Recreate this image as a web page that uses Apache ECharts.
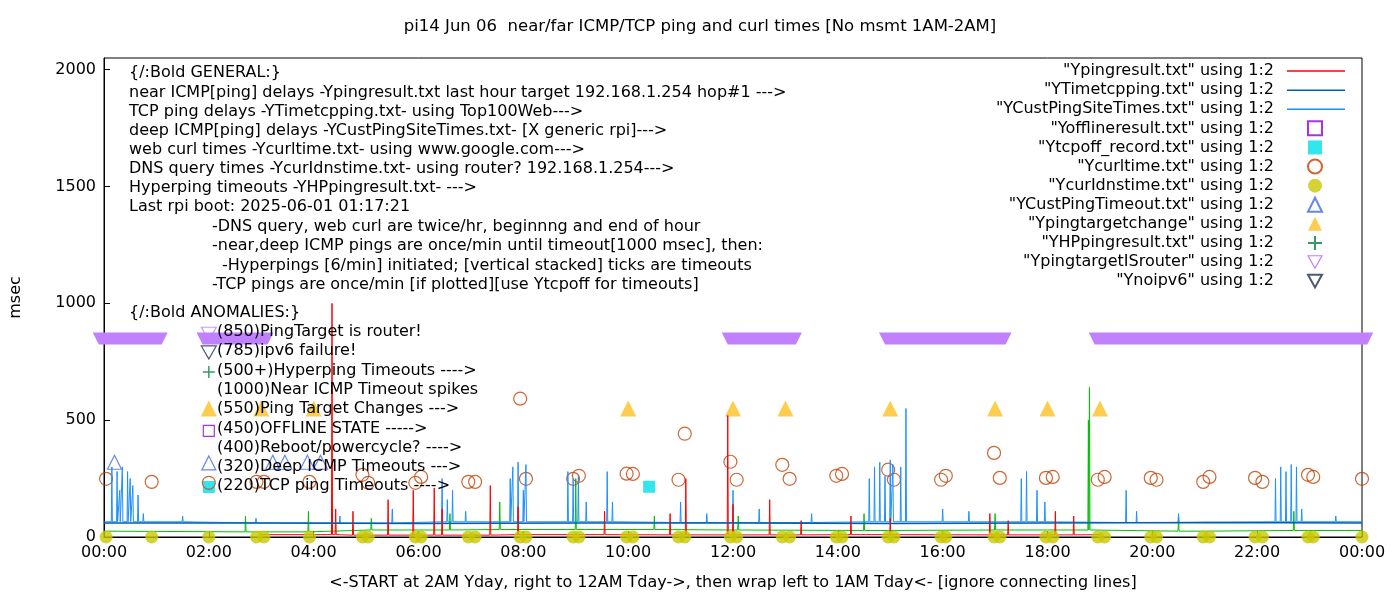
<!DOCTYPE html>
<html><head><meta charset="utf-8">
<script src="https://cdn.jsdelivr.net/npm/echarts@6/dist/echarts.min.js"></script>
<style>html,body{margin:0;padding:0;background:#fff}#c{width:1400px;height:600px}</style>
</head><body><div id="c"></div>
<script>
// hours 0..24, values msec
const xTicks = ['00:00','02:00','04:00','06:00','08:00','10:00','12:00','14:00','16:00','18:00','20:00','22:00','00:00'];

// near ICMP (red): baseline + spikes
const pingBase = [[3.0,10],[6,8],[9,10],[12,9],[15,10],[18,9],[19.0,10]];
const pingSpikes = [[4.35,1000],[4.42,120],[4.75,110],[5.42,160],[5.9,200],[6.3,210],[6.45,120],[7.37,220],[7.9,130],[9.55,110],[10.8,100],[11.1,250],[11.9,520],[12.0,140],[12.7,160],[13.3,70],[14.25,90],[15.0,80],[16.9,100],[17.25,70],[18.15,110],[18.5,90]];
// TCP ping (blue, flat)
const tcpBase = [[0,60],[3,60],[6,58],[9,60],[12,60],[15,58],[18,60],[21,62],[24,60]];
// deep ICMP (light blue)
const custBase = [[0,65],[4,60],[8,65],[12,62],[16,65],[20,62],[24,65]];
const custSpikes = [[0.15,300],[0.25,280],[0.3,200],[0.35,300],[0.45,280],[0.5,250],[0.55,220],[0.65,180],[0.75,100],[1.5,90],[2.9,80],[4.5,90],[5.5,120],[6.45,250],[6.55,160],[6.65,200],[6.9,110],[7.75,250],[7.8,300],[7.9,320],[8.0,200],[8.05,310],[8.85,280],[8.95,250],[9.05,260],[9.2,150],[9.6,280],[9.7,150],[11.0,150],[11.5,100],[12.0,200],[12.5,120],[13.5,100],[14.6,250],[14.7,300],[14.8,320],[14.9,260],[15.0,330],[15.05,310],[15.2,300],[15.3,550],[16.0,120],[16.5,110],[17.5,250],[17.6,280],[17.8,200],[17.95,150],[19.5,200],[19.7,110],[20.5,100],[22.35,250],[22.45,300],[22.55,280],[22.65,310],[22.75,300],[22.85,120],[23.5,90]];
// hyperping (green)
const hpBase = [[0,25],[3,22],[6,30],[9,32],[12,30],[15,28],[18,30],[21,25],[24,28]];
const hpSpikes = [[2.7,90],[3.9,110],[5.1,80],[6.6,100],[7.55,150],[9.0,250],[10.5,90],[12.1,90],[14.5,100],[17.0,100],[18.78,500],[18.8,640],[20.5,90],[22.7,110]];
// curl times (circles)
const curl = [[0.04,249],[0.91,236],[2.0,232],[2.91,236],[3.05,236],[3.92,236],[4.93,266],[5.04,232],[5.94,232],[6.05,257],[6.95,236],[7.08,236],[7.94,592],[8.05,249],[8.95,249],[9.06,262],[9.97,271],[10.09,270],[10.96,245],[11.08,442],[11.95,322],[12.07,245],[12.94,309],[13.08,249],[13.97,262],[14.08,270],[14.96,288],[15.07,245],[15.97,245],[16.06,262],[16.98,360],[17.09,253],[17.97,253],[18.1,257],[18.96,245],[19.09,257],[19.97,253],[20.08,245],[20.97,236],[21.09,257],[21.96,253],[22.1,236],[22.97,266],[23.07,257],[24,249]];
const dns = [[0.04,0],[0.91,0],[2.0,0],[2.91,0],[3.05,0],[3.92,0],[4.93,0],[5.04,0],[5.94,0],[6.05,0],[6.95,0],[7.08,0],[7.94,0],[8.05,0],[8.95,0],[9.06,0],[9.97,0],[10.09,0],[10.96,0],[11.08,0],[11.95,0],[12.07,0],[12.94,0],[13.08,0],[13.97,0],[14.08,0],[14.96,0],[15.07,0],[15.97,0],[16.06,0],[16.98,0],[17.09,0],[17.97,0],[18.1,0],[18.96,0],[19.09,0],[19.97,0],[20.08,0],[20.97,0],[21.09,0],[21.96,0],[22.1,0],[22.97,0],[23.07,0],[24,0]];
const offline = [[2.0,454]];
const tcpOff = [[2.0,214],[10.4,215]];
const custTimeout = [[0.2,320],[2.0,317],[3.22,320],[3.45,320],[3.88,320],[4.13,320]];
const targetChange = [[2,550],[3,550],[4,550],[10,550],[12,550],[13,550],[15,550],[17,550],[18,550],[19,550]];
const hpTimeout = [[2.0,706]];
const routerRanges = [[-0.1,1.1],[1.88,3.12],[11.9,13.2],[14.9,17.2],[18.9,24.1]];
const routerKey = [[2.0,870]];
const noipv6 = [[2.0,790]];

const textLines = [
  [129,75,'{/:Bold GENERAL:}'],
  [129,95,'near ICMP[ping] delays -Ypingresult.txt last hour target 192.168.1.254 hop#1 --->'],
  [129,114,'TCP ping delays -YTimetcpping.txt- using Top100Web--->'],
  [129,133,'deep ICMP[ping] delays -YCustPingSiteTimes.txt- [X generic rpi]--->'],
  [129,152,'web curl times -Ycurltime.txt- using www.google.com--->'],
  [129,171,'DNS query times -YcurIdnstime.txt- using router? 192.168.1.254--->'],
  [129,190,'Hyperping timeouts -YHPpingresult.txt- --->'],
  [129,209,'Last rpi boot: 2025-06-01 01:17:21'],
  [212,229,'-DNS query, web curl are twice/hr, beginnng and end of hour'],
  [212,248,'-near,deep ICMP pings are once/min until timeout[1000 msec], then:'],
  [222,268,'-Hyperpings [6/min] initiated; [vertical stacked] ticks are timeouts'],
  [212,287,'-TCP pings are once/min [if plotted][use Ytcpoff for timeouts]'],
  [129,315,'{/:Bold ANOMALIES:}'],
  [217,334,'(850)PingTarget is router!'],
  [217,353,'(785)ipv6 failure!'],
  [217,373,'(500+)Hyperping Timeouts ---->'],
  [217,392,'(1000)Near ICMP Timeout spikes'],
  [217,411,'(550)Ping Target Changes --->'],
  [217,431,'(450)OFFLINE STATE ----->'],
  [217,450,'(400)Reboot/powercycle? ---->'],
  [217,469,'(320)Deep ICMP Timeouts --->'],
  [217,488,'(220)TCP ping Timeouts ---->']
];

function spiky(base, spikes) {
  const pts = base.slice();
  spikes.forEach(([t, v]) => {
    const b = base.reduce((a, p) => Math.abs(p[0] - t) < Math.abs(a[0] - t) ? p : a)[1];
    pts.push([t - 0.01, b], [t, v], [t + 0.01, b]);
  });
  return pts.sort((a, b) => a[0] - b[0]);
}

const F = 'DejaVu Sans';
const FS = 16;
const LH = 19.1;
const names = ['"Ypingresult.txt" using 1:2','"YTimetcpping.txt" using 1:2','"YCustPingSiteTimes.txt" using 1:2','"Yofflineresult.txt" using 1:2','"Ytcpoff_record.txt" using 1:2','"Ycurltime.txt" using 1:2','"YcurIdnstime.txt" using 1:2','"YCustPingTimeout.txt" using 1:2','"Ypingtargetchange" using 1:2','"YHPpingresult.txt" using 1:2','"YpingtargetISrouter" using 1:2','"Ynoipv6" using 1:2'];
const plus = 'path://M5,0L5,10M0,5L10,5';
const downTri = 'path://M0,0L10,0L5,9Z';
const hollow = c => ({color: 'rgba(0,0,0,0)', borderColor: c, borderWidth: 1.2});
const legText = pad => ({fontFamily: F, fontSize: FS, color: '#000', lineHeight: LH, height: LH, padding: [0, pad, 0, 0]});

const chart = echarts.init(document.getElementById('c'));
chart.setOption({
  animation: false,
  textStyle: {fontFamily: F},
  title: {text: 'pi14 Jun 06  near/far ICMP/TCP ping and curl times [No msmt 1AM-2AM]', left: 'center', top: 13,
    textStyle: {fontFamily: F, fontSize: 16.5, fontWeight: 'normal', color: '#000'}},
  grid: {left: 101, right: 38, top: 58, bottom: 63, show: true, borderColor: '#000', borderWidth: 1},
  legend: [
    {orient: 'vertical', right: 55, top: 61.5, align: 'right', itemWidth: 58, itemHeight: 1.5, itemGap: 0, padding: 0,
      icon: 'rect', textStyle: legText(8), data: names.slice(0, 3)},
    {orient: 'vertical', right: 77, top: 61.5 + 3 * LH, align: 'right', itemWidth: 14, itemHeight: 14, itemGap: 0, padding: 0,
      textStyle: legText(29),
      data: [
        {name: names[3], icon: 'rect'}, {name: names[4], icon: 'rect'}, {name: names[5], icon: 'circle'},
        {name: names[6], icon: 'circle'}, {name: names[7], icon: 'triangle'}, {name: names[8], icon: 'triangle'},
        {name: names[9], icon: plus}, {name: names[10], icon: downTri, itemStyle: hollow('#c080ff')},
        {name: names[11], icon: downTri}]}
  ],
  xAxis: {type: 'value', min: 0, max: 24, interval: 2,
    name: '<-START at 2AM Yday, right to 12AM Tday->, then wrap left to 1AM Tday<- [ignore connecting lines]',
    nameLocation: 'middle', nameGap: 38, nameTextStyle: {fontFamily: F, fontSize: FS, color: '#000'},
    axisLine: {lineStyle: {color: '#000'}}, axisTick: {inside: true, length: 6, lineStyle: {color: '#000'}},
    axisLabel: {color: '#000', fontSize: FS, fontFamily: F, margin: 8, formatter: v => xTicks[v / 2]},
    splitLine: {show: false}},
  yAxis: {type: 'value', min: 0, max: 2050, interval: 500, name: 'msec', nameLocation: 'middle', nameGap: 80,
    nameTextStyle: {fontFamily: F, fontSize: FS, color: '#000'},
    axisLine: {show: true, lineStyle: {color: '#000'}}, axisTick: {inside: true, length: 6, lineStyle: {color: '#000'}},
    axisLabel: {color: '#000', fontSize: FS, fontFamily: F, showMaxLabel: false, formatter: v => String(v)}, splitLine: {show: false}},
  graphic: textLines.map(([x, y, t]) => ({type: 'text', left: x, top: y - 10, z: 100,
    style: {text: t, fontFamily: F, fontSize: FS, fill: '#000'}})),
  series: [
    {name: names[0], type: 'line', symbol: 'none', data: spiky(pingBase, pingSpikes), lineStyle: {width: 1, color: '#ff0000'}, itemStyle: {color: '#ff0000'}, z: 4},
    {name: names[1], type: 'line', symbol: 'none', data: tcpBase, lineStyle: {width: 1.5, color: '#0060ad'}, itemStyle: {color: '#0060ad'}, z: 5},
    {name: names[2], type: 'line', symbol: 'none', data: spiky(custBase, custSpikes), lineStyle: {width: 1, color: '#1e8fff'}, itemStyle: {color: '#1e8fff'}, z: 3},
    {name: names[3], type: 'scatter', symbol: 'rect', symbolSize: 11, data: offline, itemStyle: hollow('#9400d3')},
    {name: names[4], type: 'scatter', symbol: 'rect', symbolSize: 12, data: tcpOff, itemStyle: {color: '#00e0e8'}},
    {name: names[5], type: 'scatter', symbol: 'circle', symbolSize: 13, data: curl, itemStyle: hollow('#c04000')},
    {name: names[6], type: 'scatter', symbol: 'circle', symbolSize: 13, data: dns, clip: false, itemStyle: {color: '#c8c800'}, z: 6},
    {name: names[7], type: 'scatter', symbol: 'triangle', symbolSize: 14, data: custTimeout, itemStyle: hollow('#4169e1')},
    {name: names[8], type: 'scatter', symbol: 'triangle', symbolSize: 16, data: targetChange, itemStyle: {color: '#ffc020'}},
    {name: names[9], type: 'scatter', symbol: plus, symbolSize: 12, data: hpTimeout, itemStyle: {color: 'rgba(0,0,0,0)', borderColor: '#008040', borderWidth: 1.5}},
    {name: names[9], type: 'line', symbol: 'none', data: spiky(hpBase, hpSpikes), lineStyle: {width: 1, color: '#00c000'}, itemStyle: {color: '#008040'}, z: 2},
    {name: names[10], type: 'custom', data: routerRanges, clip: false, itemStyle: {color: '#c080ff'},
      renderItem: (params, api) => {
        const a = api.coord([api.value(0), 850]), b = api.coord([api.value(1), 850]);
        return {type: 'polygon', shape: {points: [[a[0] - 6, a[1] - 6], [b[0] + 6, b[1] - 6], [b[0], b[1] + 6], [a[0], a[1] + 6]]},
          style: {fill: '#c080ff'}};
      }},
    {name: names[10], type: 'scatter', symbol: downTri, symbolSize: [15, 13], data: routerKey, itemStyle: hollow('#c080ff')},
    {name: names[11], type: 'scatter', symbol: downTri, symbolSize: [15, 13], data: noipv6, itemStyle: hollow('#203050')}
  ]
});
</script></body></html>
